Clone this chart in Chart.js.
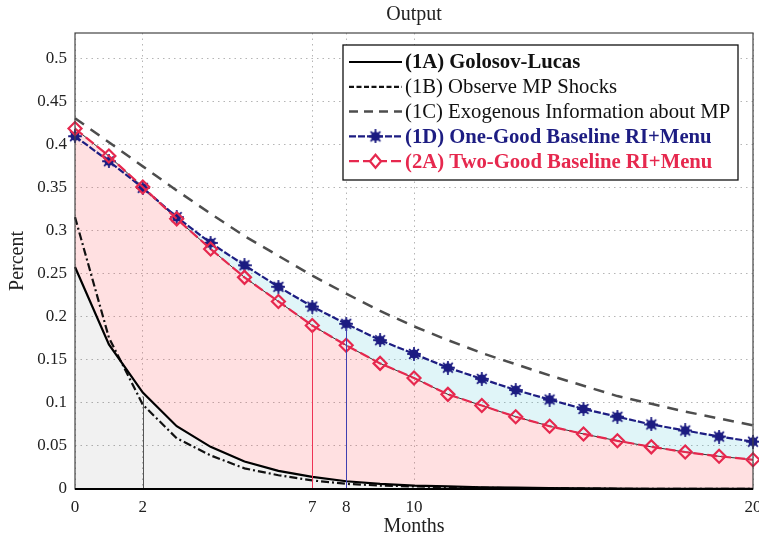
<!DOCTYPE html>
<html>
<head>
<meta charset="utf-8">
<script src="https://cdn.jsdelivr.net/npm/chart.js@4/dist/chart.umd.min.js"></script>
<style>
  html, body { margin: 0; padding: 0; background: #fff; }
</style>
</head>
<body>
<canvas id="outputChart" width="759" height="539"></canvas>
<script>
const chartTitle = 'Output';
const xLabel = 'Months';
const yLabel = 'Percent';

const months = [0, 1, 2, 3, 4, 5, 6, 7, 8, 9, 10, 11, 12, 13, 14, 15, 16, 17, 18, 19, 20];
const xTicks = [0, 2, 7, 8, 10, 20];
const yTicks = [0, 0.05, 0.1, 0.15, 0.2, 0.25, 0.3, 0.35, 0.4, 0.45, 0.5];

// impulse responses of output, in percent
const golosovLucas = [0.258, 0.168, 0.112, 0.073, 0.049, 0.032, 0.021, 0.014, 0.009, 0.006, 0.004,
  0.003, 0.002, 0.0015, 0.001, 0.0007, 0.0005, 0.0003, 0.0002, 0.0001, 0.0001];
const observeShocks = [0.316, 0.176, 0.098, 0.059, 0.039, 0.024, 0.016, 0.010, 0.006, 0.004, 0.003,
  0.002, 0.0015, 0.001, 0.0008, 0.0005, 0.0003, 0.0002, 0.0001, 0.0001, 0.0001];
const exogenousInfo = [0.431, 0.403, 0.375, 0.347, 0.320, 0.294, 0.271, 0.248, 0.227, 0.207, 0.189,
  0.173, 0.158, 0.145, 0.132, 0.120, 0.108, 0.099, 0.090, 0.082, 0.074];
const oneGood = [0.410, 0.381, 0.350, 0.316, 0.286, 0.260, 0.235, 0.212, 0.192, 0.173, 0.157,
  0.141, 0.128, 0.115, 0.104, 0.093, 0.084, 0.075, 0.068, 0.061, 0.055];
const twoGood = [0.419, 0.387, 0.351, 0.314, 0.279, 0.246, 0.218, 0.190, 0.167, 0.146, 0.129,
  0.110, 0.097, 0.084, 0.073, 0.064, 0.056, 0.049, 0.043, 0.038, 0.034];

const legendLabels = [
  '(1A) Golosov-Lucas',
  '(1B) Observe MP Shocks',
  '(1C) Exogenous Information about MP',
  '(1D) One-Good Baseline RI+Menu',
  '(2A) Two-Good Baseline RI+Menu'
];

const NAVY = '#1d1d82';
const CRIMSON = '#e6284e';
const SERIF = '"Liberation Serif", "DejaVu Serif", serif';

function pts(values) {
  return months.map((m, i) => ({ x: m, y: values[i] }));
}

// filled asterisk used as the marker for the one-good model
function makeStar(color) {
  const c = document.createElement('canvas');
  c.width = 14; c.height = 14;
  const g = c.getContext('2d');
  g.fillStyle = color;
  g.strokeStyle = color;
  g.beginPath();
  g.arc(7, 7, 4.6, 0, Math.PI * 2);
  g.fill();
  g.lineWidth = 1.8;
  g.lineCap = 'round';
  for (let k = 0; k < 8; k++) {
    const a = k * Math.PI / 4;
    g.beginPath();
    g.moveTo(7, 7);
    g.lineTo(7 + Math.cos(a) * 6.2, 7 + Math.sin(a) * 6.2);
    g.stroke();
  }
  return c;
}
const starImg = makeStar(NAVY);

// months where each response drops below half its impact value
const halfLives = [
  { month: 2, values: golosovLucas, color: '#555' },
  { month: 7, values: twoGood, color: '#ee3355' },
  { month: 8, values: oneGood, color: '#4040b0' }
];

const datasets = [
  {
    label: legendLabels[0], data: pts(golosovLucas),
    borderColor: '#000', borderWidth: 2.2, pointRadius: 0,
    fill: 'origin', backgroundColor: 'rgba(0,0,0,0.055)', legendBold: true, order: 5
  },
  {
    label: legendLabels[1], data: pts(observeShocks),
    borderColor: '#111', borderWidth: 2.2, borderDash: [8, 3, 2, 3], pointRadius: 0,
    fill: false, legendDash: [5, 2.5], order: 6
  },
  {
    label: legendLabels[2], data: pts(exogenousInfo),
    borderColor: '#4d4d4d', borderWidth: 2.5, borderDash: [11, 8], pointRadius: 0,
    fill: false, legendDash: [9, 6], order: 4
  },
  {
    // thin edge of the shaded band under the two-good model
    data: pts(twoGood), borderColor: '#000', borderWidth: 0.8, pointRadius: 0,
    fill: 0, backgroundColor: 'rgba(255,60,70,0.16)', order: 7
  },
  {
    label: legendLabels[3], data: pts(oneGood),
    borderColor: NAVY, borderWidth: 2.2, borderDash: [7, 2],
    pointStyle: starImg, pointRadius: 6,
    fill: { target: 3, above: 'rgba(60,190,210,0.16)', below: 'rgba(0,0,0,0)' },
    legendBold: true, legendColor: NAVY, order: 2
  },
  {
    label: legendLabels[4], data: pts(twoGood),
    borderColor: CRIMSON, borderWidth: 2.2, borderDash: [10, 4],
    pointStyle: 'rectRot', pointRadius: 6.5, pointBorderWidth: 2.2,
    pointBackgroundColor: 'rgba(0,0,0,0)', pointBorderColor: CRIMSON,
    fill: false, legendBold: true, legendColor: CRIMSON, order: 1
  }
];
datasets.forEach(ds => { ds.clip = 10; ds.tension = 0; });

const decorations = {
  id: 'decorations',
  afterDatasetsDraw(chart) {
    const { ctx, scales: { x, y } } = chart;
    ctx.save();
    ctx.lineWidth = 1;
    halfLives.forEach(h => {
      const px = Math.round(x.getPixelForValue(h.month)) + 0.5;
      ctx.strokeStyle = h.color;
      ctx.beginPath();
      ctx.moveTo(px, y.getPixelForValue(h.values[months.indexOf(h.month)]) + 4);
      ctx.lineTo(px, y.getPixelForValue(0));
      ctx.stroke();
    });
    ctx.restore();
  },
  afterDraw(chart) {
    const { ctx, chartArea: a } = chart;
    ctx.save();
    // frame round the plot
    ctx.strokeStyle = '#444';
    ctx.lineWidth = 1.2;
    ctx.strokeRect(a.left, a.top, a.right - a.left, a.bottom - a.top);
    ctx.strokeStyle = '#000';
    ctx.lineWidth = 2;
    ctx.beginPath();
    ctx.moveTo(a.left, a.bottom);
    ctx.lineTo(a.right, a.bottom);
    ctx.stroke();

    ctx.fillStyle = '#222';
    ctx.font = '20px ' + SERIF;
    ctx.textAlign = 'center';
    ctx.textBaseline = 'middle';
    ctx.fillText(chartTitle, (a.left + a.right) / 2, 15);

    drawLegend(chart);
    ctx.restore();
  }
};

function drawLegend(chart) {
  const ctx = chart.ctx;
  const bx = 343, by = 45, bw = 395, bh = 135;
  ctx.fillStyle = '#fff';
  ctx.fillRect(bx, by, bw, bh);
  ctx.strokeStyle = '#111';
  ctx.lineWidth = 1.3;
  ctx.strokeRect(bx, by, bw, bh);

  let row = 0;
  chart.data.datasets.forEach(ds => {
    if (!ds.label) return;
    const ly = by + 17 + row * 24.8;
    const x1 = 349, x2 = 402, xm = (x1 + x2) / 2;
    ctx.strokeStyle = ds.borderColor;
    ctx.lineWidth = ds.borderWidth;
    ctx.setLineDash(ds.legendDash || ds.borderDash || []);
    ctx.beginPath();
    ctx.moveTo(x1, ly);
    ctx.lineTo(x2, ly);
    ctx.stroke();
    ctx.setLineDash([]);
    if (ds.pointStyle === 'rectRot') {
      const r = ds.pointRadius;
      ctx.fillStyle = '#fff';
      ctx.lineWidth = ds.pointBorderWidth;
      ctx.strokeStyle = ds.pointBorderColor;
      ctx.beginPath();
      ctx.moveTo(xm, ly - r);
      ctx.lineTo(xm + r * 0.85, ly);
      ctx.lineTo(xm, ly + r);
      ctx.lineTo(xm - r * 0.85, ly);
      ctx.closePath();
      ctx.fill();
      ctx.stroke();
    } else if (ds.pointStyle instanceof HTMLCanvasElement) {
      ctx.drawImage(ds.pointStyle, xm - 7, ly - 7);
    }
    ctx.fillStyle = ds.legendColor || '#111';
    ctx.font = (ds.legendBold ? 'bold ' : '') + '20.7px ' + SERIF;
    ctx.textAlign = 'left';
    ctx.textBaseline = 'middle';
    ctx.fillText(ds.label, 405, ly + 1);
    row++;
  });
}

const gridStyle = {
  color: '#b5b5b5',
  lineWidth: 1,
  drawTicks: false
};

new Chart(document.getElementById('outputChart'), {
  type: 'line',
  data: { datasets: datasets },
  options: {
    responsive: false,
    animation: false,
    layout: { autoPadding: false, padding: { top: 33, right: 6, left: 0, bottom: 0 } },
    plugins: {
      legend: { display: false },
      title: { display: false },
      tooltip: { enabled: false },
      filler: { drawTime: 'beforeDatasetsDraw' }
    },
    scales: {
      x: {
        type: 'linear',
        min: 0, max: 20,
        grid: gridStyle,
        border: { display: false, dash: [1.5, 4] },
        afterBuildTicks: s => { s.ticks = xTicks.map(v => ({ value: v })); },
        afterFit: s => { s.height = 50; s.paddingLeft = 0; s.paddingRight = 0; },
        ticks: { color: '#222', font: { family: SERIF, size: 17 }, padding: 8, maxRotation: 0 },
        title: { display: true, text: xLabel, color: '#222', font: { family: SERIF, size: 20 }, padding: { top: 0, bottom: 0 } }
      },
      y: {
        min: 0, max: 0.53,
        grid: gridStyle,
        border: { display: false, dash: [1.5, 4] },
        afterBuildTicks: s => { s.ticks = yTicks.map(v => ({ value: v })); },
        afterFit: s => { s.width = 75; s.paddingTop = 0; s.paddingBottom = 0; },
        ticks: { color: '#222', font: { family: SERIF, size: 17 }, padding: 8, callback: v => String(v) },
        title: { display: true, text: yLabel, color: '#222', font: { family: SERIF, size: 20 }, padding: { top: 6, bottom: 0 } }
      }
    }
  },
  plugins: [decorations]
});
</script>
</body>
</html>
